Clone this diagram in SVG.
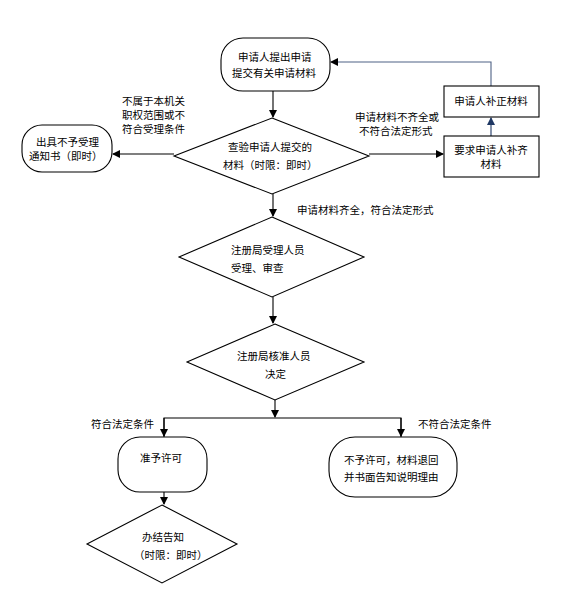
<svg xmlns="http://www.w3.org/2000/svg" width="574" height="609" viewBox="0 0 574 609">
<defs>
<marker id="ah" markerWidth="8" markerHeight="8" refX="7" refY="4" orient="auto" markerUnits="userSpaceOnUse"><path d="M0,0 L8,4 L0,8 Z" fill="#000"/></marker>
<marker id="ahb" markerWidth="8" markerHeight="8" refX="7" refY="4" orient="auto" markerUnits="userSpaceOnUse"><path d="M0,0 L8,4 L0,8 Z" fill="#1f3864"/></marker>
<style>
.s{fill:#fff;stroke:#000;stroke-width:1.1}
.t{font-family:"Noto Sans CJK SC","Liberation Sans",sans-serif;font-size:10.5px;fill:#000}
.m{text-anchor:middle}
.c{fill:none;stroke:#000;stroke-width:1.1}
</style>
</defs>
<rect width="574" height="609" fill="#fff"/>
<g id="connectors">
<path class="c" d="M273,91 V117" marker-end="url(#ah)"/>
<path class="c" d="M174,154 H113" marker-end="url(#ah)"/>
<path class="c" d="M369,154 H443" marker-end="url(#ah)"/>
<path class="c" d="M491,136 V118" style="stroke:#1f3864" marker-end="url(#ahb)"/>
<path class="c" d="M491,86 V62 H331" style="stroke:#4f6285" marker-end="url(#ah)"/>
<path class="c" d="M273,194 V216" marker-end="url(#ah)"/>
<path class="c" d="M273,297 V323" marker-end="url(#ah)"/>
<path class="c" d="M275,400 V417" marker-end="url(#ah)"/>
<path class="c" d="M164,437 V418 H401 V437"/>
<path class="c" d="M164,418 V436" marker-end="url(#ah)"/>
<path class="c" d="M401,418 V436" marker-end="url(#ah)"/>
<path class="c" d="M164,492 V504" marker-end="url(#ah)"/>
</g>
<g id="labels">
<text class="t" x="122" y="105">不属于本机关</text>
<text class="t" x="122" y="119">职权范围或不</text>
<text class="t" x="122" y="133">符合受理条件</text>
<text class="t" x="355" y="121">申请材料不齐全或</text>
<text class="t" x="359" y="135">不符合法定形式</text>
<text class="t" x="297" y="214">申请材料齐全，符合法定形式</text>
<text class="t" x="91" y="428">符合法定条件</text>
<text class="t" x="418" y="428">不符合法定条件</text>
</g>
<g id="n1"><rect class="s" x="221" y="38" width="109" height="53" rx="22"/>
<text class="t" x="238" y="61">申请人提出申请</text><text class="t" x="232" y="77">提交有关申请材料</text></g>
<g id="n2"><polygon class="s" points="272,118 369,156 272,194 174,156"/>
<text class="t" x="228" y="151">查验申请人提交的</text><text class="t" x="223" y="169">材料（时限：即时）</text></g>
<g id="n3"><rect class="s" x="22" y="125" width="90" height="47" rx="20"/>
<text class="t" x="36" y="146">出具不予受理</text><text class="t" x="29" y="160">通知书（即时）</text></g>
<g id="n4"><rect class="s" x="444" y="136" width="95" height="41"/>
<text class="t m" x="491" y="154">要求申请人补齐</text><text class="t m" x="491" y="168">材料</text></g>
<g id="n5"><rect class="s" x="444" y="86" width="95" height="31"/>
<text class="t m" x="491" y="105">申请人补正材料</text></g>
<g id="n6"><polygon class="s" points="272,217 364,257 272,297 179,257"/>
<text class="t" x="231" y="254">注册局受理人员</text><text class="t" x="231" y="272">受理、审查</text></g>
<g id="n7"><polygon class="s" points="275,324 364,362 275,400 187,362"/>
<text class="t" x="237" y="360">注册局核准人员</text><text class="t" x="265" y="378">决定</text></g>
<g id="n8"><rect class="s" x="118" y="437" width="89" height="55" rx="22"/>
<text class="t" x="140" y="462">准予许可</text></g>
<g id="n9"><rect class="s" x="329" y="437" width="128" height="60" rx="26"/>
<text class="t" x="344" y="464">不予许可，材料退回</text><text class="t" x="344" y="481">并书面告知说明理由</text></g>
<g id="n10"><polygon class="s" points="162,505 237,544 162,583 87,544"/>
<text class="t" x="142" y="541">办结告知</text><text class="t" x="134" y="559">（时限：即时）</text></g>
</svg>
